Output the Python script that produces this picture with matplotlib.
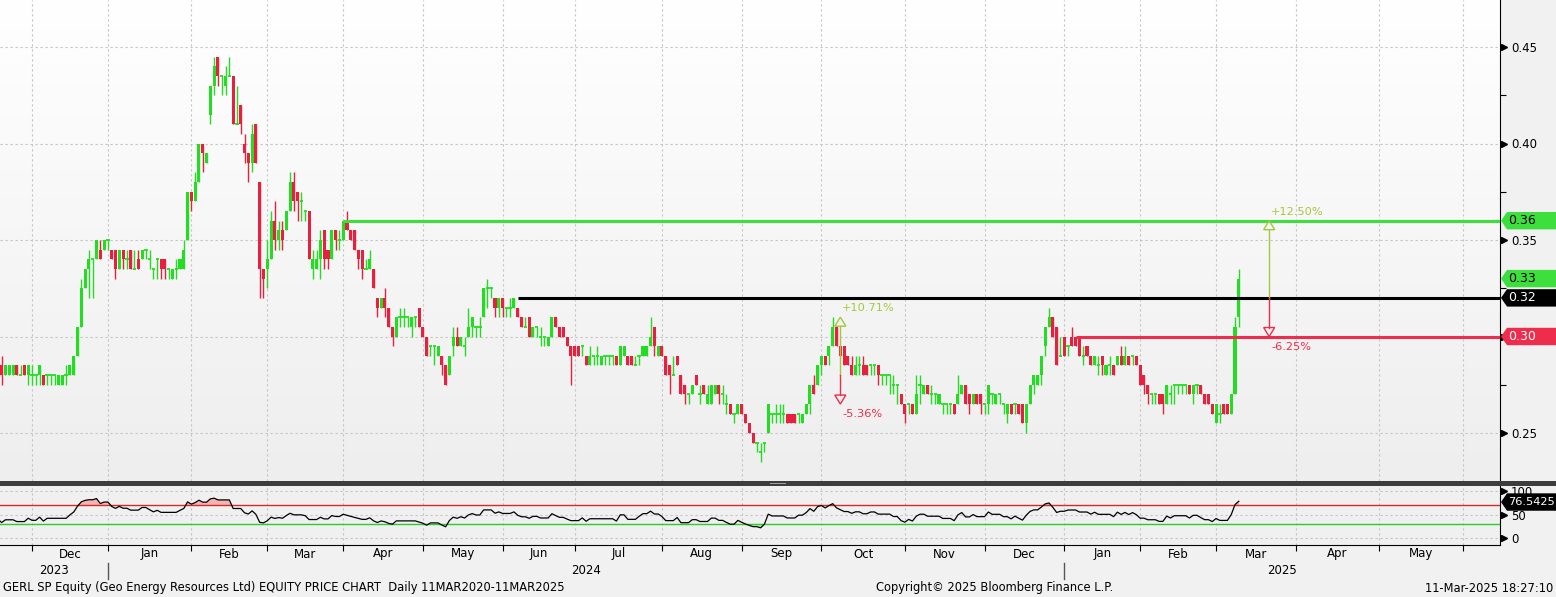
import numpy as np
import pandas as pd
import matplotlib
matplotlib.use("Agg")
import matplotlib.pyplot as plt
from matplotlib.patches import Polygon, Rectangle
from matplotlib.transforms import IdentityTransform, blended_transform_factory

plt.rcParams['font.family'] = ['DejaVu Sans']

# daily OHLC 20-Nov-2023 .. 11-Mar-2025, in SGX price steps of 0.005 (57 -> 0.285)
opens = [
    58,57,56,56,56,57,56,57,56,56, 56,56,56,56,56,56,55,55,56,56,
    56,58,61,65,67,68,68,69,69,70, 69,69,67,69,68,69,67,68,68,69,
    68,67,68,68,68,67,66,67,67,67, 70,75,74,76,80,78,83,86,89,87,
    86,87,87,82,84,80,79,78,82,76, 67,67,68,72,70,71,71,73,76,75,
    74,73,73,67,
    67,68,71,69,68,71,70,70,72,71, 71,69,69,67,67,67,64,63,64,63,
    61,60,62,62,62,61,62,63,61,60, 59,59,58,58,57,56,59,60,59,59,
    60,61,61,61,62,65,65,64,63,64, 63,63,63,63,62,61,62,60,61,60,
    60,59,60,62,61,61,60,59,59,59, 59,58,57,58,58,57,58,58,58,58,
    57,
    58,58,58,57,58,58,58,59,61,58, 59,58,57,56,58,56,55,54,54,56,
    54,55,53,53,54,55,54,53,53,52, 52,53,52,51,50,49,48,49,50,52,
    52,52,52,52,52,52,52,51,52,53, 55,55,57,58,58,59,61,59,59,58,
    57,56,57,57,57,57,57,57,56,56, 56,55,55,54,53,53,53,52,55,54,
    55,54,
    54,53,53,53,53,53,53,54,55,54, 53,54,54,53,53,54,53,54,53,52,
    53,53,53,53,51,53,55,55,56,59, 61,62,61,58,60,59,60,60,60,58,
    59,58,57,57,58,56,57,57,57,58, 57,58,58,58,57,56,55,54,54,54,
    54,53,54,55,55,55,55,55,54,55, 55,54,54,53,51,52,53,53,52,54,
    62,
]
highs = [
    58,58,57,57,57,57,57,57,57,57, 56,57,56,56,56,56,56,56,57,57,
    58,61,66,67,69,68,70,70,70,70, 69,69,69,69,69,69,69,69,69,69,
    69,67,68,68,68,67,67,68,68,70, 75,75,77,80,80,79,86,89,89,87,
    88,89,87,86,84,81,79,82,82,76, 67,70,73,74,72,72,73,77,77,75,
    75,73,73,69,
    69,71,71,69,71,71,71,72,73,71, 71,69,69,68,69,67,64,64,65,63,
    61,62,63,63,62,62,62,63,61,60, 59,59,59,58,57,58,61,61,60,60,
    63,62,61,62,65,66,65,64,64,64, 63,64,64,63,62,62,62,61,61,61,
    60,60,62,62,61,61,60,59,59,59, 59,58,59,58,59,58,58,58,58,58,
    59,
    59,58,58,58,58,59,59,62,61,59, 59,58,57,58,58,56,55,54,55,56,
    55,55,55,55,55,55,55,54,53,52, 53,53,52,51,50,49,49,49,53,52,
    53,53,53,52,52,52,52,52,53,55, 56,57,58,58,59,62,61,59,59,58,
    58,58,58,58,57,57,57,57,56,56, 56,56,55,54,53,53,53,56,56,55,
    55,55,
    54,54,53,53,53,53,56,55,55,54, 54,54,54,53,55,54,54,54,53,53,
    53,53,53,53,53,55,56,56,58,61, 63,62,61,60,60,59,61,60,60,59,
    59,58,58,58,58,57,58,57,58,59, 59,58,58,58,57,56,55,54,54,54,
    54,55,55,55,55,55,55,55,55,55, 55,54,54,53,53,53,53,53,54,62,
    67,
]
lows = [
    57,55,56,56,56,56,56,56,55,55, 55,55,55,55,55,55,55,55,55,56,
    56,58,61,65,64,64,68,68,69,69, 68,66,67,67,67,67,67,67,68,68,
    67,66,66,66,66,66,66,66,67,67, 70,73,74,76,77,78,82,85,86,85,
    85,87,82,82,81,78,76,77,78,64, 64,65,68,69,69,69,71,73,73,72,
    72,72,68,66,
    67,66,67,67,68,69,69,70,71,70, 69,67,66,67,67,65,62,63,62,61,
    59,60,61,61,61,60,61,61,60,58, 58,57,58,56,55,56,58,59,59,58,
    60,60,60,60,62,63,64,62,62,62, 62,62,63,62,61,61,60,60,60,59,
    59,59,60,61,60,60,59,55,58,58, 58,57,57,57,57,57,57,57,57,57,
    57,
    58,57,57,57,57,58,58,59,58,58, 58,56,54,56,57,54,53,53,54,55,
    53,54,53,53,54,53,53,52,52,51, 52,52,51,50,49,48,47,48,50,51,
    51,51,51,51,51,51,51,51,52,52, 54,55,56,57,57,59,59,58,57,57,
    56,56,56,56,56,56,56,55,55,55, 54,54,53,53,51,52,52,52,53,54,
    54,53,
    53,53,52,52,52,52,53,54,53,52, 53,53,52,52,52,53,53,53,52,51,
    52,52,52,51,50,53,54,55,55,58, 61,60,57,58,58,58,59,59,58,57,
    58,57,57,56,56,56,56,56,57,57, 57,57,57,57,55,54,53,53,53,53,
    52,53,53,53,54,54,54,54,53,54, 54,53,53,52,51,51,52,52,52,54,
    61,
]
closes = [
    58,56,57,57,57,56,56,56,57,56, 56,57,55,56,56,56,56,56,56,57,
    58,61,65,67,68,68,70,68,70,70, 68,67,69,68,68,67,67,67,69,69,
    68,67,68,67,67,67,67,67,68,69, 75,74,76,80,79,79,86,88,87,87,
    87,87,82,82,82,79,78,81,78,67, 66,68,72,70,71,70,73,76,74,74,
    74,73,68,68,
    68,70,68,68,71,70,70,72,71,70, 69,68,67,67,68,65,63,64,63,61,
    60,62,62,62,62,62,62,61,60,58, 59,59,59,57,55,58,60,59,60,59,
    61,62,61,61,65,65,65,63,64,63, 63,63,64,62,61,61,60,61,61,60,
    60,60,62,61,60,60,59,58,58,58, 59,57,58,58,58,58,58,58,58,57,
    59,
    59,57,57,57,58,59,59,60,59,59, 58,56,56,56,57,54,54,54,55,55,
    54,54,54,55,55,54,54,53,52,52, 53,52,51,50,49,49,48,49,53,52,
    52,52,52,51,51,51,52,52,53,55, 54,57,58,57,59,61,59,58,57,57,
    56,57,57,56,56,57,57,56,56,56, 56,55,55,53,52,53,52,54,55,55,
    54,54,
    54,54,53,53,53,52,54,55,53,53, 54,53,53,53,55,54,54,54,53,53,
    52,53,52,51,53,55,56,56,58,61, 62,60,57,58,58,59,59,59,58,58,
    58,57,58,57,57,57,57,56,58,57, 58,57,58,57,55,55,54,54,54,53,
    53,55,54,55,55,55,55,54,55,55, 54,53,53,52,53,52,52,52,54,61,
    66,
]
assert len(opens) == len(highs) == len(lows) == len(closes)

TICK = 0.005
last_day = "2025-03-11"
sgx_holidays = ["2023-11-13", "2023-12-25", "2024-01-01", "2024-02-12", "2024-03-29",
                "2024-04-10", "2024-05-01", "2024-05-22", "2024-06-17", "2024-08-09",
                "2024-10-31", "2024-12-25", "2025-01-01", "2025-01-29", "2025-01-30"]

# horizontal levels (price, drawn from date)
level_prices = [0.36, 0.32, 0.30]
level_from = ["2024-04-01", "2024-06-07", "2025-01-07"]
last_price = 0.33
rsi_last = 76.5425
rsi_hi, rsi_lo = 70, 30

# trend arrows
arrow_dates = ["2024-10-08", "2025-03-21"]
arrow_base = [0.28, 0.32]
arrow_up = [0.31, 0.36]
arrow_down = [0.265, 0.30]
arrow_up_txt = ["+10.71%", "+12.50%"]
arrow_down_txt = ["-5.36%", "-6.25%"]

footer_left = "GERL SP Equity (Geo Energy Resources Ltd) EQUITY PRICE CHART  Daily 11MAR2020-11MAR2025"
footer_mid = "Copyright\u00a9 2025 Bloomberg Finance L.P."
footer_right = "11-Mar-2025 18:27:10"

GREEN = "#22dd22"
RED = "#e8203f"
LGREEN = "#3ddf3d"
LRED = "#ee2c4c"
YG = "#a5c83a"
GRID = "#c4c4c4"

# ---- trading-day axis
past = pd.bdate_range("2023-11-01", last_day, freq="C", holidays=sgx_holidays)
future = pd.bdate_range("2025-03-12", "2025-06-30")
days = past.append(future)
n = len(closes)
xs = np.arange(len(past) - n, len(past))

def pos(d):
    return days.get_loc(pd.Timestamp(d))

PX = 3.795  # pixels per trading day
x_left = pos("2023-12-01") - 32 / PX
x_right = pos("2023-12-01") + (1500 - 32) / PX

month_idx = [i for i in range(1, len(days)) if days[i].month != days[i - 1].month]

o = np.array(opens) * TICK
h = np.array(highs) * TICK
l = np.array(lows) * TICK
c = np.array(closes) * TICK
h = np.maximum(h, np.maximum(o, c))
l = np.minimum(l, np.minimum(o, c))

# RSI 14 (Wilder), seeded with the average move of the first 14 sessions
chg = np.diff(c, prepend=c[0])
g = np.clip(chg, 0, None)
ls = np.clip(-chg, 0, None)
ag, al = g[1:15].mean(), ls[1:15].mean()
rsi = []
for i in range(n):
    if i > 0:
        ag = (ag * 13 + g[i]) / 14
        al = (al * 13 + ls[i]) / 14
    rsi.append(100 * ag / (ag + al) if ag + al > 0 else 50)
rsi = np.array(rsi)

W, H = 1556, 597
fig = plt.figure(figsize=(W / 100, H / 100), dpi=100, facecolor="#f1f1f1")
ax = fig.add_axes([0, 116 / H, 1500 / W, 481 / H])
ax2 = fig.add_axes([0, 52 / H, 1500 / W, 59 / H])

# background gradient of price panel
grad = np.linspace(0, 1, 256).reshape(-1, 1)
cmap = matplotlib.colors.LinearSegmentedColormap.from_list("bg", ["#ffffff", "#eeeeee"])
ax.imshow(grad, cmap=cmap, extent=[0, 1, 0, 1], transform=ax.transAxes,
          aspect="auto", zorder=0, origin="upper")
ax2.set_facecolor("#f0f0f0")

# candles
up = c >= o
col = np.where(up, GREEN, RED)
ax.vlines(xs, l, h, colors=col, lw=1, zorder=3)
body = c != o
ax.bar(xs[body], (c - o)[body], bottom=o[body], width=0.8, color=col[body],
       linewidth=0, zorder=3)
ax.hlines(o[~body], xs[~body] - 0.45, xs[~body] + 0.45, colors=col[~body], lw=1.3, zorder=3)

# levels
for p, d0, cl in zip(level_prices, level_from, [LGREEN, "black", LRED]):
    ax.hlines(p, pos(d0), x_right, colors=cl, lw=2.2, zorder=4)

# arrows
tri_w = 1.45          # half width in days
tri_h = 9 / 1930      # height in price
for dt, b, pu, pd_, tu, td in zip(arrow_dates, arrow_base, arrow_up, arrow_down,
                                   arrow_up_txt, arrow_down_txt):
    x = pos(dt)
    ax.plot([x, x], [b, pu - tri_h], color=YG, lw=1, zorder=5)
    ax.plot([x, x], [b, pd_ + tri_h], color=LRED, lw=1, zorder=5)
    ax.add_patch(Polygon([(x - tri_w, pu - tri_h), (x + tri_w, pu - tri_h), (x, pu)],
                         closed=True, fc="none", ec=YG, lw=1, zorder=5))
    ax.add_patch(Polygon([(x - tri_w, pd_ + tri_h), (x + tri_w, pd_ + tri_h), (x, pd_)],
                         closed=True, fc="none", ec=LRED, lw=1, zorder=5))
    ax.text(x + 0.5, pu + 0.0046, tu, color=YG, fontsize=8.2, ha="left", va="center", zorder=6)
    ax.text(x + 0.5, pd_ - 0.0054, td, color=LRED, fontsize=8.2, ha="left", va="center", zorder=6)

# RSI panel
ax2.plot(xs, rsi, color="black", lw=0.9, zorder=4)
ax2.fill_between(xs, rsi, rsi_hi, where=rsi > rsi_hi, interpolate=True,
                 color="#f4b4b4", lw=0, zorder=2)
ax2.fill_between(xs, rsi, rsi_lo, where=rsi < rsi_lo, interpolate=True,
                 color="#b4f0b4", lw=0, zorder=2)
ax2.axhline(rsi_hi, color="#d42a2a", lw=1, zorder=3)
ax2.axhline(rsi_lo, color="#2ccc2c", lw=1, zorder=3)

# axes limits / ticks
ax.set_xlim(x_left, x_right)
ax.set_ylim(0.45 - (481 - 47) / 1930, 0.45 + 47 / 1930)
ax2.set_xlim(x_left, x_right)
ax2.set_ylim((538 - 545) / 0.47, (538 - 486) / 0.47)

for a in (ax, ax2):
    for s in ("left", "top"):
        a.spines[s].set_visible(False)
    a.spines["right"].set_color("black")
    a.yaxis.tick_right()
    a.set_xticks(month_idx)
    a.grid(True, which="major", color=GRID, linestyle=(0, (2, 2.5)), linewidth=0.8, zorder=1)
    a.set_axisbelow(True)
ax.spines["bottom"].set_visible(False)
ax.tick_params(axis="x", length=0, labelbottom=False)
ax2.tick_params(axis="x", length=4, width=0.8, direction="out", labelbottom=False)

ax.set_yticks([0.25, 0.30, 0.35, 0.40, 0.45])
ax.set_yticklabels(["0.25", "", "0.35", "0.40", "0.45"])
ax.set_yticks([0.275, 0.325, 0.375, 0.425], minor=True)
ax.tick_params(axis="y", which="major", length=0, pad=8, labelsize=8.5)
ax.tick_params(axis="y", which="minor", length=4, width=0.8, direction="out")
ax.plot([1.003] * 5, [0.25, 0.30, 0.35, 0.40, 0.45], ls="none", marker=">", ms=4,
        color="black", transform=ax.get_yaxis_transform(), clip_on=False, zorder=6)

ax2.set_yticks([0, 50, 100])
ax2.set_yticklabels(["0", "50", "100"])
ax2.tick_params(axis="y", which="major", length=0, pad=8, labelsize=8.5)
ax2.plot([1.003] * 3, [0, 50, 100], ls="none", marker=">", ms=4,
         color="black", transform=ax2.get_yaxis_transform(), clip_on=False, zorder=6)

# month and year labels
tr = blended_transform_factory(ax2.transData, IdentityTransform())
for k in range(len(month_idx) - 1):
    mid = (month_idx[k] + month_idx[k + 1]) / 2
    ax2.text(mid, H - 554, days[month_idx[k]].strftime("%b"), transform=tr,
             ha="center", va="center", fontsize=8.5, clip_on=False)
jan = [i for i in month_idx if days[i].month == 1]
bounds = [x_left] + jan + [x_right]
for k in range(len(bounds) - 1):
    yr = days[jan[0]].year - 1 + k
    ax2.text((bounds[k] + bounds[k + 1]) / 2, H - 570, str(yr), transform=tr,
             ha="center", va="center", fontsize=8.5, clip_on=False)
for j in jan:
    ax2.plot([j, j], [H - 563, H - 579], color="#555555", lw=1, transform=tr, clip_on=False)

# separator bar between panels
fig.add_artist(Rectangle((0, H - 486), W, 5, transform=IdentityTransform(),
                         fc="#3d3d3d", ec="none"))
fig.add_artist(Rectangle((770, H - 484), 16, 1, transform=IdentityTransform(),
                         fc="#a0a0a0", ec="none"))

# value tags on the right
def tag(axis, val, txt, fc, tc, size=9):
    y = axis.transData.transform((0, val))[1]
    pts = [(1501, y), (1507, y + 8.7), (W, y + 8.7), (W, y - 8.7), (1507, y - 8.7)]
    fig.add_artist(Polygon(pts, closed=True, transform=IdentityTransform(),
                           fc=fc, ec="none", zorder=10))
    fig.text(1508, y, txt, transform=IdentityTransform(), color=tc, fontsize=size,
             ha="left", va="center", zorder=11)

tag(ax, level_prices[0], f"{level_prices[0]:.2f}", LGREEN, "black")
tag(ax, last_price, f"{last_price:.2f}", LGREEN, "black")
tag(ax, level_prices[1], f"{level_prices[1]:.2f}", "black", "white")
tag(ax, level_prices[2], f"{level_prices[2]:.2f}", LRED, "white")
tag(ax2, rsi_last, f"{rsi_last}", "black", "white", size=8.2)

# footer
fig.text(3, 9, footer_left, transform=IdentityTransform(), fontsize=8.3, va="center")
fig.text(876, 9, footer_mid, transform=IdentityTransform(), fontsize=8.3, va="center")
fig.text(1553, 9, footer_right, transform=IdentityTransform(), fontsize=8.3,
         va="center", ha="right")

fig.savefig("out.png", dpi=100, facecolor=fig.get_facecolor())
